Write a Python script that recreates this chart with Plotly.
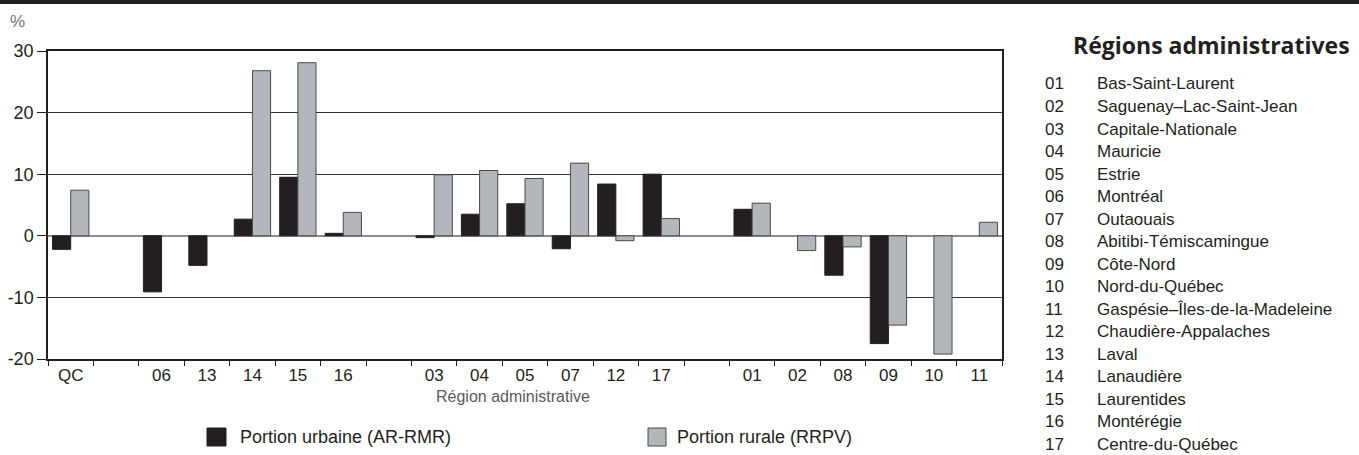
import plotly.graph_objects as go

# ---- data ----
categories = ["QC", " ", "06", "13", "14", "15", "16", "  ", "03", "04", "05", "07", "12", "17",
              "   ", "01", "02", "08", "09", "10", "11"]
urbaine = [-2.2, None, -9.1, -4.8, 2.7, 9.5, 0.4, None, -0.3, 3.5, 5.2, -2.1, 8.4, 10.0,
           None, 4.3, None, -6.4, -17.5, None, None]
rurale = [7.4, None, None, None, 26.8, 28.1, 3.8, None, 9.9, 10.6, 9.3, 11.8, -0.8, 2.8,
          None, 5.3, -2.4, -1.8, -14.5, -19.2, 2.2]
y_ticks = [-20, -10, 0, 10, 20, 30]
series_names = ["Portion urbaine (AR-RMR)", "Portion rurale (RRPV)"]
region_codes = ["01", "02", "03", "04", "05", "06", "07", "08", "09", "10", "11", "12", "13",
                "14", "15", "16", "17"]
region_names = ["Bas-Saint-Laurent", "Saguenay–Lac-Saint-Jean", "Capitale-Nationale", "Mauricie",
                "Estrie", "Montréal", "Outaouais", "Abitibi-Témiscamingue", "Côte-Nord",
                "Nord-du-Québec", "Gaspésie–Îles-de-la-Madeleine", "Chaudière-Appalaches",
                "Laval", "Lanaudière", "Laurentides", "Montérégie", "Centre-du-Québec"]

# ---- layout geometry (pixels) ----
W, H = 1359, 455
L, R, T, B = 48, 1002, 51, 359
PW, PH = R - L, B - T


def px(x):
    return (x - L) / PW


def py(y):
    return (B - y) / PH


DARK = "#231f20"
GRAY = "#b3b6bb"
ARIAL = "Liberation Sans, Arial, sans-serif"

fig = go.Figure()
fig.add_trace(go.Bar(x=categories, y=urbaine, name=series_names[0],
                     marker=dict(color=DARK, line=dict(color=DARK, width=1))))
fig.add_trace(go.Bar(x=categories, y=rurale, name=series_names[1],
                     marker=dict(color=GRAY, line=dict(color="#4a4a4a", width=1))))

shapes = []
annotations = []

# top black band
shapes.append(dict(type="rect", xref="paper", yref="paper", x0=px(0), x1=px(W),
                   y0=py(4), y1=py(0), fillcolor=DARK, line=dict(width=0), layer="above"))

# % label
annotations.append(dict(text="%", xref="paper", yref="paper", x=px(8), y=py(21),
                        xanchor="left", yanchor="middle", showarrow=False,
                        font=dict(family=ARIAL, size=17, color="#777777")))

# x-axis title
annotations.append(dict(text="Région administrative", xref="paper", yref="paper",
                        x=px(513), y=py(396), xanchor="center", yanchor="middle",
                        showarrow=False, font=dict(family=ARIAL, size=16, color="#5a5a5a")))

# legend (manual)
leg = [(207, 226, DARK, DARK, 238, series_names[0]),
       (648, 666, GRAY, "#4a4a4a", 675, series_names[1])]
for x0, x1, fc, lc, tx, txt in leg:
    shapes.append(dict(type="rect", xref="paper", yref="paper", x0=px(x0), x1=px(x1),
                       y0=py(446), y1=py(428), fillcolor=fc, line=dict(color=lc, width=1)))
    annotations.append(dict(text=txt, xref="paper", yref="paper", x=px(tx), y=py(437),
                            xanchor="left", yanchor="middle", showarrow=False,
                            font=dict(family=ARIAL, size=18, color=DARK)))

# right-hand region list
annotations.append(dict(text="<b>Régions administratives</b>", xref="paper", yref="paper",
                        x=px(1071), y=py(45), xanchor="left", yanchor="middle", showarrow=False,
                        font=dict(family="Open Sans, sans-serif", size=23, color=DARK)))
y0_list, dy = 84, 22.5
for i, (code, name) in enumerate(zip(region_codes, region_names)):
    yy = y0_list + i * dy
    annotations.append(dict(text=code, xref="paper", yref="paper", x=px(1043), y=py(yy),
                            xanchor="left", yanchor="middle", showarrow=False,
                            font=dict(family=ARIAL, size=17, color=DARK)))
    annotations.append(dict(text=name, xref="paper", yref="paper", x=px(1095), y=py(yy),
                            xanchor="left", yanchor="middle", showarrow=False,
                            font=dict(family=ARIAL, size=17, color=DARK)))

fig.update_layout(
    width=W, height=H,
    margin=dict(l=L, r=W - R, t=T, b=H - B),
    paper_bgcolor="white", plot_bgcolor="white",
    barmode="group", bargap=0.2, bargroupgap=0.0,
    showlegend=False,
    shapes=shapes, annotations=annotations,
    font=dict(family=ARIAL, size=18, color=DARK),
)
fig.update_xaxes(type="category", categoryorder="array", categoryarray=categories,
                 tickson="boundaries", ticks="outside", ticklen=5, tickcolor=DARK,
                 showline=True, linecolor=DARK, linewidth=1.5, mirror=True,
                 showgrid=False, automargin=False,
                 tickfont=dict(family=ARIAL, size=17, color=DARK))
fig.update_yaxes(range=[-20, 30], tickvals=y_ticks, ticktext=[str(v) for v in y_ticks],
                 ticks="outside", ticklen=9, tickcolor=DARK,
                 showline=True, linecolor=DARK, linewidth=1.5, mirror=True,
                 showgrid=True, gridcolor="#333333", gridwidth=1,
                 zeroline=True, zerolinecolor="#8c8c8c", zerolinewidth=1.5,
                 automargin=False,
                 tickfont=dict(family=ARIAL, size=18, color=DARK))

fig.write_html("out.html", config={"displayModeBar": False},
               post_script="document.body.style.margin='0px';")
